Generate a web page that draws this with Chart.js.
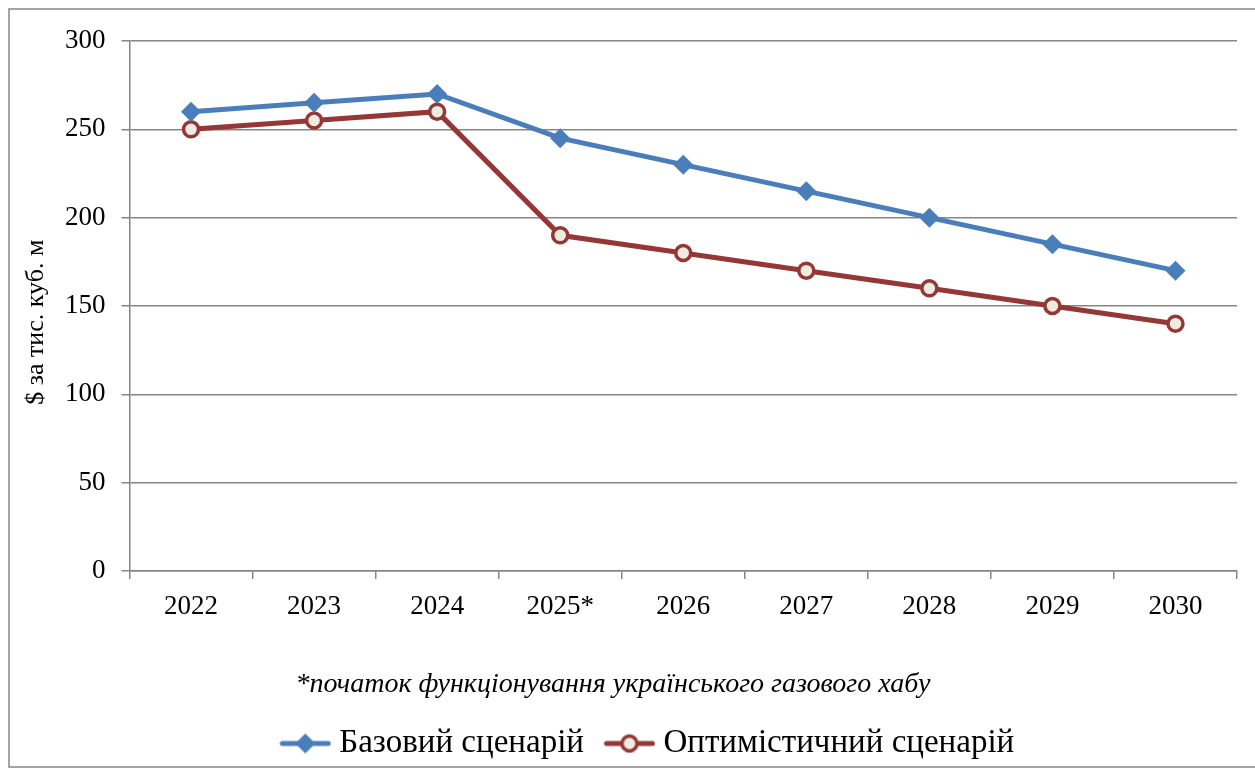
<!DOCTYPE html>
<html>
<head>
<meta charset="utf-8">
<script src="https://cdn.jsdelivr.net/npm/chart.js@4/dist/chart.umd.min.js"></script>
<style>
  html, body { margin: 0; padding: 0; background: #fff; }
  #wrap { width: 1255px; height: 770px; position: relative; }
</style>
</head>
<body>
<div id="wrap"><canvas id="gas"></canvas></div>
<script>
// Years and price scenarios, $ per thousand cubic metres
const years = ['2022', '2023', '2024', '2025*', '2026', '2027', '2028', '2029', '2030']
const baseScenario = [260, 265, 270, 245, 230, 215, 200, 185, 170]
const optimisticScenario = [250, 255, 260, 190, 180, 170, 160, 150, 140]
const yTicks = [0, 50, 100, 150, 200, 250, 300]

const blue = '#4a7ebb'
const red = '#953735'
const cream = '#eeece1'
const gray = '#868686'
const serif = "'Liberation Serif', 'Times New Roman', serif"

// Legend symbol: a short line with the series marker, drawn in the right part
// of the image so it sits close to its label
function legendSwatch(color, kind) {
  let c = document.createElement('canvas')
  c.width = 70
  c.height = 24
  let ctx = c.getContext('2d')
  ctx.strokeStyle = color
  ctx.lineWidth = 5
  ctx.lineCap = 'round'
  ctx.beginPath()
  ctx.moveTo(21, 12)
  ctx.lineTo(67, 12)
  ctx.stroke()
  let cx = 44
  if (kind === 'diamond') {
    ctx.fillStyle = color
    ctx.beginPath()
    ctx.moveTo(cx, 2)
    ctx.lineTo(cx + 10, 12)
    ctx.lineTo(cx, 22)
    ctx.lineTo(cx - 10, 12)
    ctx.closePath()
    ctx.fill()
  } else {
    ctx.fillStyle = cream
    ctx.lineWidth = 3.5
    ctx.beginPath()
    ctx.arc(cx, 12, 7.5, 0, Math.PI * 2)
    ctx.fill()
    ctx.stroke()
  }
  return c
}

// Outer frame around the whole chart
const frame = {
  id: 'frame',
  beforeDraw(chart) {
    let ctx = chart.ctx
    ctx.save()
    ctx.strokeStyle = gray
    ctx.lineWidth = 1.5
    ctx.strokeRect(9, 9, 1260, 758)
    ctx.restore()
  }
}

// Nudge the footnote and legend sideways
const nudge = {
  id: 'nudge',
  afterLayout(chart) {
    let t = chart.titleBlock
    t.left -= 17
    t.right -= 17
    let l = chart.legend
    l.left += 12
    l.right += 12
  }
}

new Chart(document.getElementById('gas'), {
  type: 'line',
  data: {
    labels: years,
    datasets: [
      {
        label: 'Базовий сценарій',
        data: baseScenario,
        borderColor: blue,
        backgroundColor: blue,
        borderWidth: 5,
        pointStyle: 'rectRot',
        pointRadius: 10,
        pointHoverRadius: 10,
        pointBorderWidth: 0,
        legendImage: legendSwatch(blue, 'diamond')
      },
      {
        label: 'Оптимістичний сценарій',
        data: optimisticScenario,
        borderColor: red,
        backgroundColor: cream,
        borderWidth: 5,
        pointStyle: 'circle',
        pointRadius: 7.5,
        pointHoverRadius: 7.5,
        pointBorderWidth: 3.5,
        pointBorderColor: red,
        pointBackgroundColor: cream,
        legendImage: legendSwatch(red, 'circle')
      }
    ]
  },
  options: {
    responsive: true,
    maintainAspectRatio: false,
    animation: false,
    layout: {
      padding: { left: 23, right: 18, top: 41, bottom: 0 }
    },
    scales: {
      x: {
        offset: true,
        grid: {
          offset: true,
          drawOnChartArea: false,
          color: gray,
          lineWidth: 1.5,
          tickLength: 8
        },
        border: { color: gray, width: 1.5 },
        ticks: {
          color: '#000',
          padding: 12,
          maxRotation: 0,
          font: { family: serif, size: 27 }
        }
      },
      y: {
        min: 0,
        max: 300,
        afterBuildTicks(scale) {
          scale.ticks = yTicks.map((v) => ({ value: v }))
        },
        grid: {
          color: gray,
          lineWidth: 1.5,
          tickLength: 8
        },
        border: { color: gray, width: 1.5 },
        ticks: {
          color: '#000',
          padding: 16,
          font: { family: serif, size: 27 }
        },
        title: {
          display: true,
          text: '$ за тис. куб. м\u00a0\u00a0\u00a0\u00a0\u00a0',
          color: '#000',
          padding: { top: 0, bottom: 0 },
          font: { family: serif, size: 26, lineHeight: 1 }
        }
      }
    },
    plugins: {
      tooltip: { enabled: false },
      title: {
        display: true,
        position: 'bottom',
        weight: 500,
        text: '*початок функціонування українського газового хабу',
        color: '#000',
        padding: { top: 32, bottom: 16 },
        font: { family: serif, size: 28, style: 'italic', weight: 'normal' }
      },
      legend: {
        position: 'bottom',
        weight: 1000,
        labels: {
          usePointStyle: true,
          pointStyleWidth: 53,
          color: '#000',
          padding: 10,
          font: { family: serif, size: 33 },
          generateLabels(chart) {
            return chart.data.datasets.map((ds, i) => ({
              text: ds.label,
              pointStyle: ds.legendImage,
              fillStyle: ds.borderColor,
              strokeStyle: ds.borderColor,
              lineWidth: 0,
              hidden: false,
              datasetIndex: i
            }))
          }
        }
      }
    }
  },
  plugins: [frame, nudge]
})
</script>
</body>
</html>
